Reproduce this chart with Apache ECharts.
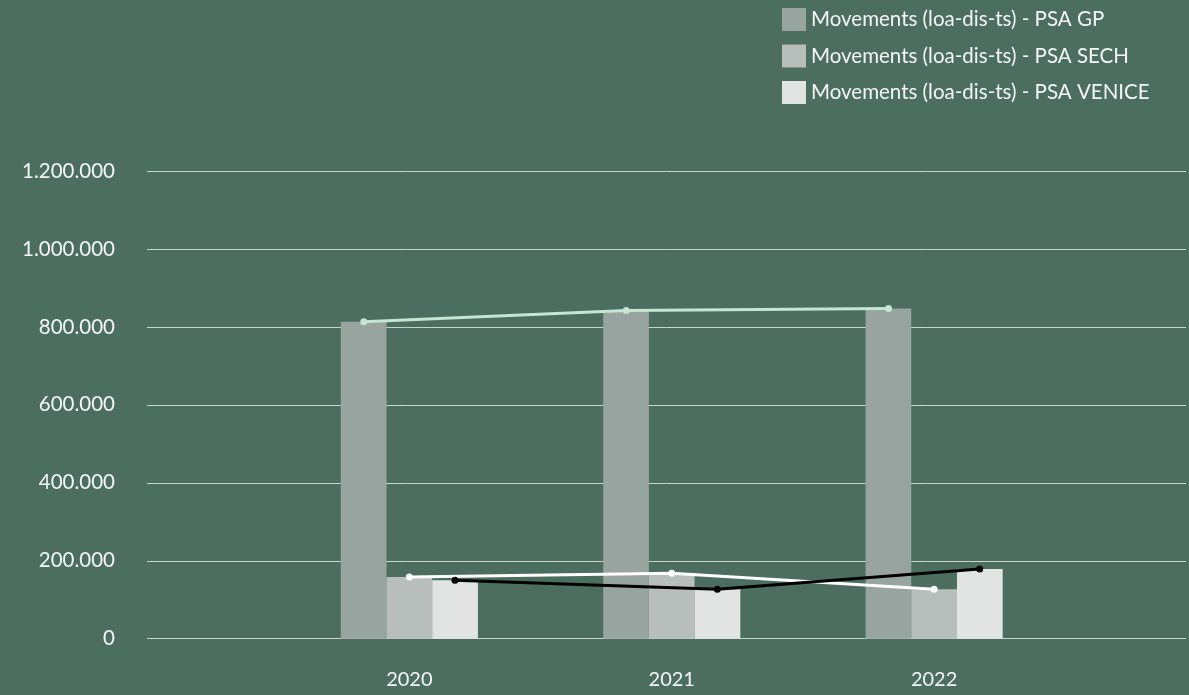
<!DOCTYPE html>
<html>
<head>
<meta charset="utf-8">
<script src="https://cdn.jsdelivr.net/npm/echarts@6/dist/echarts.min.js"></script>
<style>
html,body{margin:0;padding:0;background:#4b6e61;}
#c{width:1189px;height:695px;}
</style>
</head>
<body>
<div id="c"></div>
<script>
const years = [2020, 2021, 2022];
const seriesNames = [
  'Movements (loa-dis-ts) - PSA GP',
  'Movements (loa-dis-ts) - PSA SECH',
  'Movements (loa-dis-ts) - PSA VENICE'
];
const gpValues = [813000, 842000, 847000];
const sechValues = [158000, 168000, 127000];
const veniceValues = [150000, 127000, 179000];
const yTicks = [0, 200000, 400000, 600000, 800000, 1000000, 1200000];

const barColors = ['#97a4a0', '#b8bebc', '#e2e4e3'];
const lineColors = ['#c6e5d3', '#ffffff', '#000000'];

const gridLeft = 147, W = 1189;
const gridWidth = W - gridLeft;
const xMin = 2019;
const xMax = 2022.96; // plot area of the original runs slightly past the right edge
const barWidth = 45.7;
const pxPerYear = gridWidth / (xMax - xMin);
const offYears = barWidth / pxPerYear;

function fmt(v){ return String(v).replace(/\B(?=(\d{3})+(?!\d))/g, '.'); }

const allValues = [gpValues, sechValues, veniceValues];
const series = [];
allValues.forEach((vals, i) => {
  series.push({
    name: seriesNames[i], type: 'bar', barWidth: barWidth, barGap: '0%',
    itemStyle: { color: barColors[i] },
    data: years.map((y, k) => [y, vals[k]]),
    z: 2
  });
});
allValues.forEach((vals, i) => {
  series.push({
    name: 'line' + i, type: 'line',
    symbol: 'circle', symbolSize: 7,
    lineStyle: { color: lineColors[i], width: 3 },
    itemStyle: { color: lineColors[i] },
    data: years.map((y, k) => [y + (i - 1) * offYears, vals[k]]),
    z: 5
  });
});

const chart = echarts.init(document.getElementById('c'), null, {renderer: 'canvas'});
chart.setOption({
  backgroundColor: '#4b6e61',
  animation: false,
  textStyle: { fontFamily: 'Lato' },
  legend: {
    data: seriesNames,
    orient: 'vertical', left: 777, top: 3,
    itemWidth: 24, itemHeight: 23, itemGap: 13.5, icon: 'rect',
    textStyle: { color: '#f4f6f5', fontSize: 20.5, fontFamily: 'Lato' }
  },
  grid: { left: gridLeft, right: 0, top: 171, bottom: 56.3, containLabel: false },
  xAxis: {
    type: 'value', min: xMin, max: xMax, interval: 1,
    axisLine: { show: false }, axisTick: { show: false }, splitLine: { show: false },
    axisLabel: {
      color: '#f4f6f5', fontSize: 20, fontFamily: 'Lato', margin: 31,
      formatter: v => years.indexOf(v) >= 0 ? String(v) : ''
    }
  },
  yAxis: {
    type: 'value', min: 0, max: yTicks[yTicks.length - 1], interval: yTicks[1] - yTicks[0],
    axisLine: { show: false }, axisTick: { show: false },
    splitLine: { lineStyle: { color: '#c9d4cf', width: 1 } },
    axisLabel: { color: '#f4f6f5', fontSize: 20.5, fontFamily: 'Lato', margin: 32, formatter: fmt }
  },
  series: series
});
</script>
</body>
</html>
